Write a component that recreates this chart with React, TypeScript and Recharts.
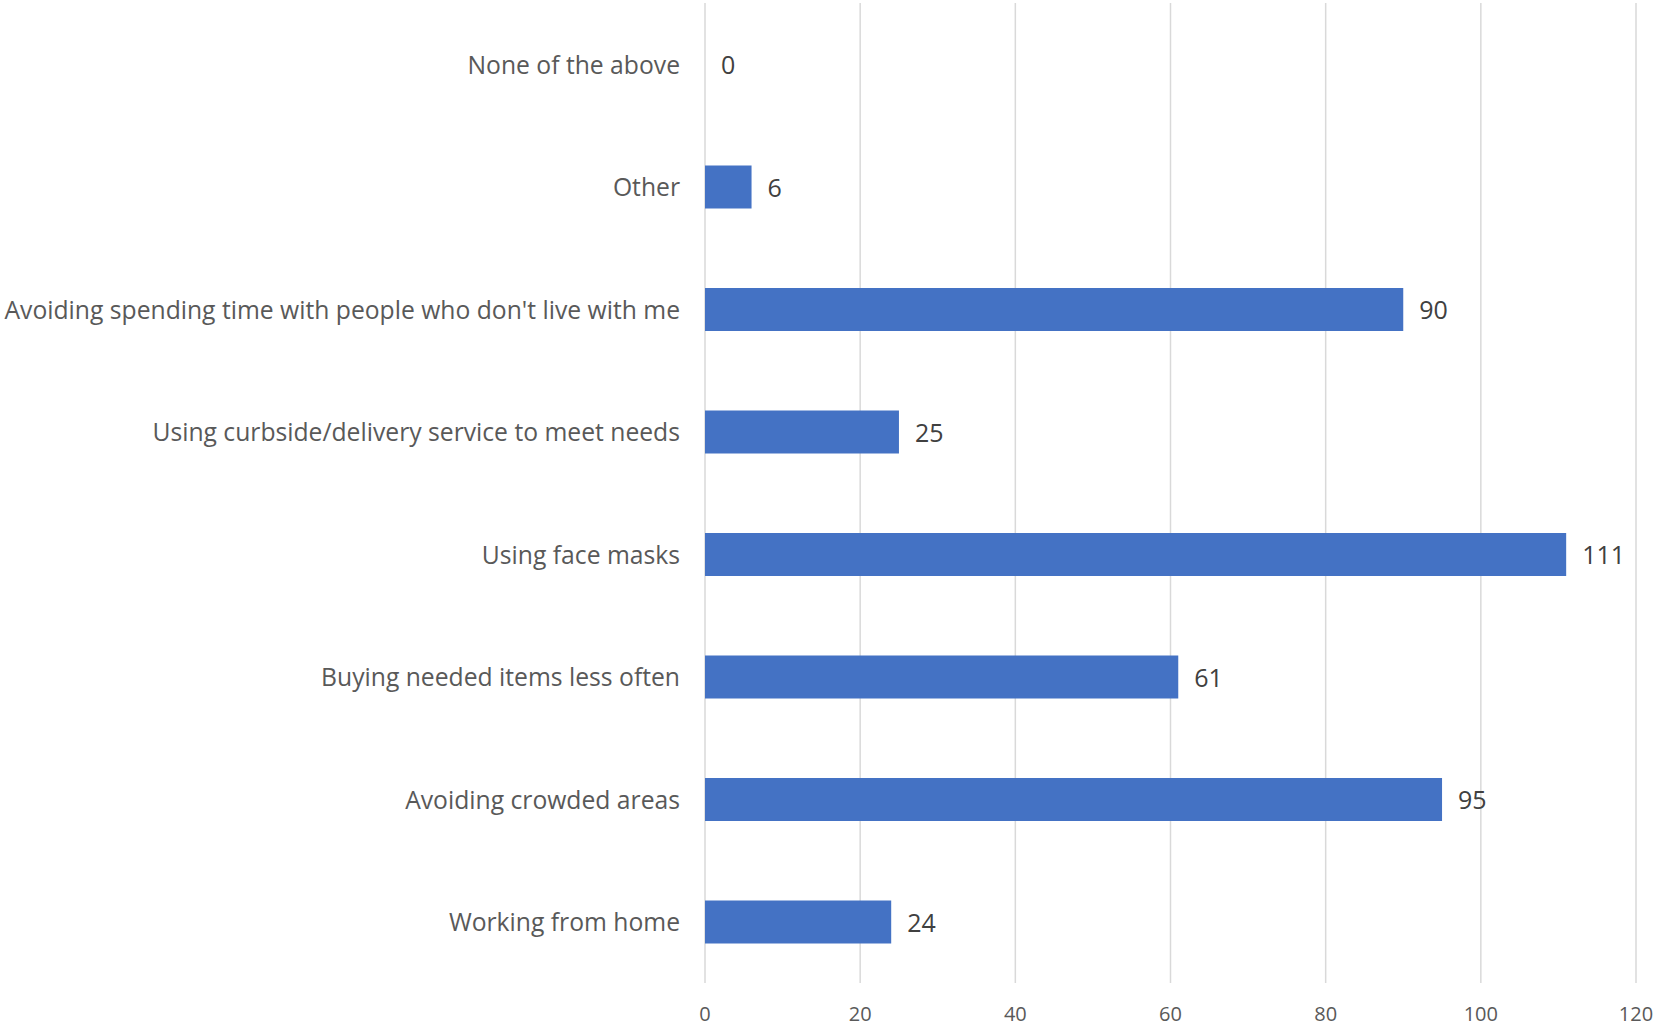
import React from "react";
import {
  Bar,
  CartesianGrid,
  ComposedChart,
  Scatter,
  XAxis,
  YAxis
} from "recharts";

const categories = [
  "None of the above",
  "Other",
  "Avoiding spending time with people who don't live with me",
  "Using curbside/delivery service to meet needs",
  "Using face masks",
  "Buying needed items less often",
  "Avoiding crowded areas",
  "Working from home"
];
const counts = [0, 6, 90, 25, 111, 61, 95, 24];
const xTicks = [0, 20, 40, 60, 80, 100, 120];

const FONT = "'Open Sans', 'Noto Sans', sans-serif";

const CategoryTick = (props: any) => {
  const { x, y, payload } = props;
  return (
    <text
      x={x - 17}
      y={y}
      textAnchor="end"
      dominantBaseline="central"
      fill="#595959"
      fontSize={24.7}
      fontFamily={FONT}
    >
      {payload.value}
    </text>
  );
};

const ValueTick = (props: any) => {
  const { x, y, payload } = props;
  return (
    <text
      x={x}
      y={y + 22}
      textAnchor="middle"
      dominantBaseline="central"
      fill="#595959"
      fontSize={20}
      fontFamily={FONT}
    >
      {payload.value}
    </text>
  );
};

// value labels drawn as a scatter so the zero row gets one too
const ValueLabel = (props: any) => {
  const { cx, cy, payload } = props;
  return (
    <text
      x={cx + 16}
      y={cy}
      textAnchor="start"
      dominantBaseline="central"
      fill="#404040"
      fontSize={25}
      fontFamily={FONT}
    >
      {payload.value}
    </text>
  );
};

const App = () => {
  const data = categories.map((name, i) => ({ name, value: counts[i] }));
  return (
    <div style={{ position: "absolute", left: 0, top: 0, background: "#fff" }}>
      <ComposedChart
        width={1655}
        height={1026}
        data={data}
        layout="vertical"
        margin={{ top: 3, right: 19, bottom: 0, left: 0 }}
      >
        <CartesianGrid horizontal={false} stroke="#d9d9d9" strokeWidth={1.5} />
        <XAxis
          type="number"
          dataKey="value"
          domain={[0, 120]}
          ticks={xTicks}
          axisLine={false}
          tickLine={false}
          tick={<ValueTick />}
          height={43}
        />
        <YAxis
          type="category"
          dataKey="name"
          width={705}
          axisLine={false}
          tickLine={false}
          tick={<CategoryTick />}
          interval={0}
        />
        <Bar dataKey="value" fill="#4472C4" barSize={43} isAnimationActive={false} />
        <Scatter dataKey="value" shape={<ValueLabel />} isAnimationActive={false} />
      </ComposedChart>
    </div>
  );
};

export default App;
